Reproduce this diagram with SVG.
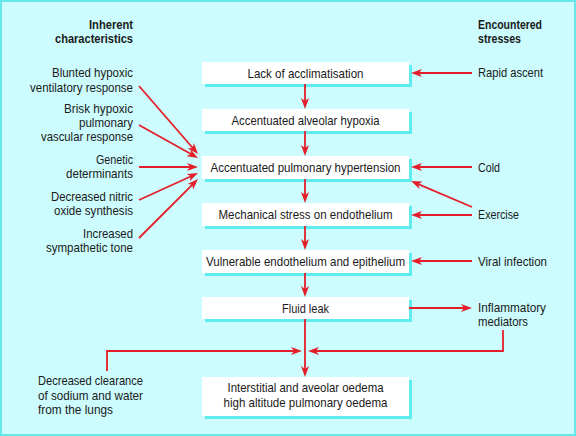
<svg xmlns="http://www.w3.org/2000/svg" width="576" height="436" viewBox="0 0 576 436">
<defs>
<style>
text{font-family:"Liberation Sans",Arial,sans-serif;font-size:13.5px;fill:#1a1a1a}
.h{font-weight:bold;font-size:13.5px}
.c{text-anchor:middle}
.r{text-anchor:end}
.box{fill:#ffffff}
.sh{fill:#5fecef}
.ln{fill:none;stroke:#e3202a;stroke-width:1.8;marker-end:url(#ah)}
</style>
<marker id="ah" viewBox="0 0 11 8" refX="7" refY="4" markerWidth="11" markerHeight="8" orient="auto" markerUnits="userSpaceOnUse">
<path d="M0,0 L11,4 L0,8 L3,4 Z" fill="#e3202a"/>
</marker>
</defs>
<rect x="1" y="1" width="574" height="434" fill="#ccfcfd" stroke="#66e8ea" stroke-width="2"/>

<g id="hdr-left"><text class="h r" x="133" y="29" textLength="44" lengthAdjust="spacingAndGlyphs">Inherent</text><text class="h r" x="133" y="43" textLength="78" lengthAdjust="spacingAndGlyphs">characteristics</text></g>
<g id="hdr-right"><text class="h" x="478" y="29" textLength="64" lengthAdjust="spacingAndGlyphs">Encountered</text><text class="h" x="478" y="43" textLength="43" lengthAdjust="spacingAndGlyphs">stresses</text></g>

<g id="n1"><rect class="sh" x="205" y="65" width="207" height="22"/><rect class="box" x="202" y="62" width="207" height="22"/><text class="c" x="305.5" y="77.5" textLength="116" lengthAdjust="spacingAndGlyphs">Lack of acclimatisation</text></g>
<g id="n2"><rect class="sh" x="205" y="112" width="207" height="22"/><rect class="box" x="202" y="109" width="207" height="22"/><text class="c" x="305.5" y="124.5" textLength="148" lengthAdjust="spacingAndGlyphs">Accentuated alveolar hypoxia</text></g>
<g id="n3"><rect class="sh" x="205" y="159" width="207" height="23"/><rect class="box" x="202" y="156" width="207" height="23"/><text class="c" x="305.5" y="172" textLength="190" lengthAdjust="spacingAndGlyphs">Accentuated pulmonary hypertension</text></g>
<g id="n4"><rect class="sh" x="205" y="206" width="207" height="23"/><rect class="box" x="202" y="203" width="207" height="23"/><text class="c" x="305.5" y="219" textLength="174" lengthAdjust="spacingAndGlyphs">Mechanical stress on endothelium</text></g>
<g id="n5"><rect class="sh" x="205" y="253" width="207" height="23"/><rect class="box" x="202" y="250" width="207" height="23"/><text class="c" x="305.5" y="266" textLength="199" lengthAdjust="spacingAndGlyphs">Vulnerable endothelium and epithelium</text></g>
<g id="n6"><rect class="sh" x="205" y="300" width="207" height="22"/><rect class="box" x="202" y="297" width="207" height="22"/><text class="c" x="305.5" y="312.5" textLength="47" lengthAdjust="spacingAndGlyphs">Fluid leak</text></g>
<g id="n7"><rect class="sh" x="205" y="380" width="207" height="39"/><rect class="box" x="202" y="377" width="207" height="39"/><text class="c" x="305.5" y="392" textLength="156" lengthAdjust="spacingAndGlyphs">Interstitial and aveolar oedema</text><text class="c" x="305.5" y="407" textLength="164" lengthAdjust="spacingAndGlyphs">high altitude pulmonary oedema</text></g>

<g id="l1"><text class="r" x="133" y="77" textLength="81" lengthAdjust="spacingAndGlyphs">Blunted hypoxic</text><text class="r" x="133" y="92" textLength="103" lengthAdjust="spacingAndGlyphs">ventilatory response</text></g>
<g id="l2"><text class="r" x="133" y="113" textLength="69" lengthAdjust="spacingAndGlyphs">Brisk hypoxic</text><text class="r" x="133" y="127" textLength="54" lengthAdjust="spacingAndGlyphs">pulmonary</text><text class="r" x="133" y="141" textLength="92" lengthAdjust="spacingAndGlyphs">vascular response</text></g>
<g id="l3"><text class="r" x="133" y="164" textLength="37" lengthAdjust="spacingAndGlyphs">Genetic</text><text class="r" x="133" y="178" textLength="67" lengthAdjust="spacingAndGlyphs">determinants</text></g>
<g id="l4"><text class="r" x="133" y="201" textLength="82" lengthAdjust="spacingAndGlyphs">Decreased nitric</text><text class="r" x="133" y="215" textLength="79" lengthAdjust="spacingAndGlyphs">oxide synthesis</text></g>
<g id="l5"><text class="r" x="133" y="238" textLength="50" lengthAdjust="spacingAndGlyphs">Increased</text><text class="r" x="133" y="252" textLength="87" lengthAdjust="spacingAndGlyphs">sympathetic tone</text></g>
<g id="l6"><text x="38" y="385" textLength="105" lengthAdjust="spacingAndGlyphs">Decreased clearance</text><text x="38" y="400" textLength="105" lengthAdjust="spacingAndGlyphs">of sodium and water</text><text x="38" y="414" textLength="75" lengthAdjust="spacingAndGlyphs">from the lungs</text></g>

<g id="s1"><text x="478" y="77" textLength="65" lengthAdjust="spacingAndGlyphs">Rapid ascent</text></g>
<g id="s2"><text x="478" y="172" textLength="22" lengthAdjust="spacingAndGlyphs">Cold</text></g>
<g id="s3"><text x="478" y="219" textLength="41" lengthAdjust="spacingAndGlyphs">Exercise</text></g>
<g id="s4"><text x="478" y="266" textLength="69" lengthAdjust="spacingAndGlyphs">Viral infection</text></g>
<g id="s5"><text x="478" y="312" textLength="68" lengthAdjust="spacingAndGlyphs">Inflammatory</text><text x="478" y="326" textLength="50" lengthAdjust="spacingAndGlyphs">mediators</text></g>

<g id="connectors">
<line class="ln" x1="305" y1="84" x2="305" y2="105"/>
<line class="ln" x1="305" y1="131" x2="305" y2="152"/>
<line class="ln" x1="305" y1="179" x2="305" y2="199"/>
<line class="ln" x1="305" y1="226" x2="305" y2="246"/>
<line class="ln" x1="305" y1="273" x2="305" y2="293"/>
<line class="ln" x1="305" y1="319" x2="305" y2="373"/>

<line class="ln" x1="139" y1="86" x2="195.4" y2="151"/>
<line class="ln" x1="139" y1="125" x2="194.5" y2="156"/>
<line class="ln" x1="139" y1="167" x2="194" y2="167"/>
<line class="ln" x1="139" y1="200" x2="194.4" y2="174.7"/>
<line class="ln" x1="139" y1="238" x2="195.2" y2="181.8"/>

<line class="ln" x1="472" y1="73" x2="415" y2="73"/>
<line class="ln" x1="472" y1="167" x2="415" y2="167"/>
<line class="ln" x1="472" y1="207" x2="414.7" y2="182.6"/>
<line class="ln" x1="472" y1="215" x2="415" y2="215"/>
<line class="ln" x1="472" y1="261" x2="415" y2="261"/>
<line class="ln" x1="409" y1="308" x2="468" y2="308"/>

<path class="ln" d="M503,330 V351 H312"/>
<path class="ln" d="M107,371 V351 H298"/>
</g>
</svg>
